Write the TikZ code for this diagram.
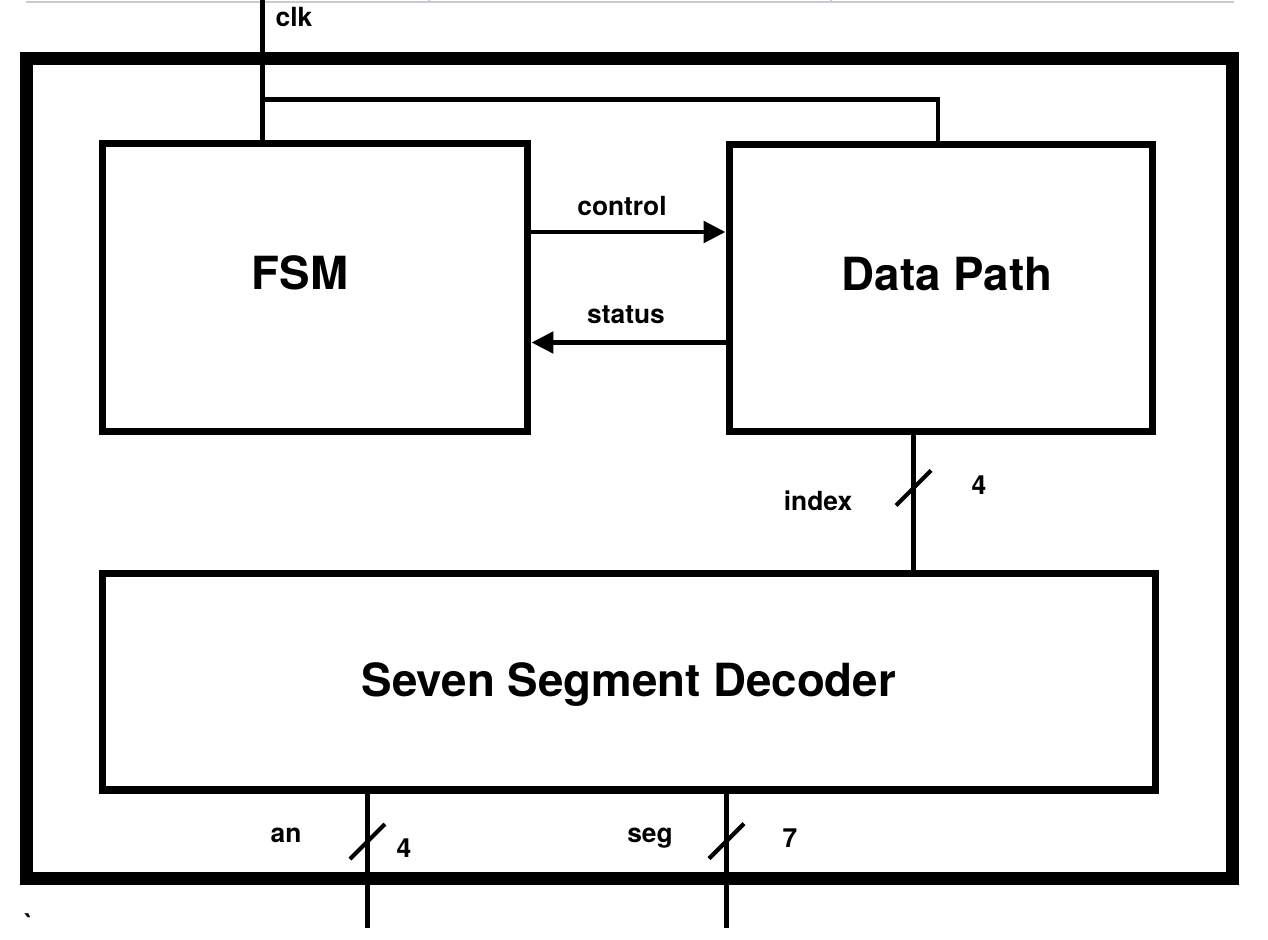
\documentclass[tikz,border=0pt]{standalone}
\usepackage{fontspec}
\setmainfont{TeX Gyre Heros}
\usepackage{tikz}
\usetikzlibrary{calc,arrows.meta}
\definecolor{rulegray}{RGB}{200,204,208}

\begin{document}
\begin{tikzpicture}[x=0.02cm,y=-0.02cm,
  block/.style={draw,line width=4pt,inner sep=0pt},
  title/.style={font=\fontsize{26}{31}\selectfont\bfseries,anchor=base,inner sep=0pt},
  lbl/.style={font=\fontsize{15}{18}\selectfont\bfseries,anchor=base,inner sep=0pt},
  wire/.style={line width=2.7pt},
  sig/.style={line width=2.8pt,-{Triangle[length=12.5pt,width=12pt]}},
  bus/.style={line width=2.4pt}]
\useasboundingbox (0,0) rectangle (1268,940);

% thin rule along the top edge
\draw[rulegray,line width=0.6pt] (26,2) -- (1234,2);
\foreach \x in {429,831}
\draw[rulegray,line width=0.6pt] (\x,0) -- (\x,2);

% outer frame
\node[draw,line width=7.4pt,inner sep=0pt,minimum width=24.13cm,minimum height=16.39cm] (chip) at (629.25,468.35) {};

% the three blocks
\node[block,minimum width=8.52cm,minimum height=5.78cm] (fsm) at (315,287.5) {};
\node[block,minimum width=8.48cm,minimum height=5.76cm] (dp) at (941,288) {};
\node[block,minimum width=21.08cm,minimum height=4.34cm] (dec) at (629,681.5) {};

% block titles
\node[title] (fsmname) at (300,289) {FSM};
\node[title] (dpname) at (947,290) {Data Path};
\node[title] (decname) at (629,696) {Seven Segment Decoder};

% clock
\coordinate (clkin) at (262.5,0);
\coordinate (clkj) at (262.5,99.7);
\coordinate (clkdp) at (938,99.7);
\draw[wire] (clkin) -- (clkin |- fsm.north);
\draw[wire] (clkj) -- (clkdp) -- (clkdp |- dp.north);
\node[lbl] (clk) at (294,26) {clk};

% control and status
\coordinate (ctl) at (622,232);
\coordinate (sts) at (626,342.5);
\draw[sig] (fsm.east |- ctl) -- (dp.west |- ctl);
\draw[sig] (dp.west |- sts) -- (fsm.east |- sts);
\node[lbl] (ctlname) at (622,215) {control};
\node[lbl] (stsname) at (626,323) {status};

% buses
\coordinate (idx) at (913.5,488);
\coordinate (an) at (367.5,841.5);
\coordinate (seg) at (726.5,841);
\coordinate (anout) at (367.5,928);
\coordinate (segout) at (726.5,928);
\draw[wire] (idx |- dp.south) -- (idx |- dec.north);
\draw[wire] (an |- dec.south) -- (anout);
\draw[wire] (seg |- dec.south) -- (segout);

% slash across each bus
\foreach \b in {idx,an,seg}
\draw[bus] ($(\b)+(-17.5,17.5)$) -- ($(\b)+(17.5,-17.5)$);

% bus labels
\node[lbl] (idxname) at (818,510) {index};
\node[lbl] (idxw) at (979,494) {4};
\node[lbl] (anname) at (286,842) {an};
\node[lbl] (anw) at (404,857) {4};
\node[lbl] (segname) at (650,842) {seg};
\node[lbl] (segw) at (790,847) {7};

% stray mark
\node[lbl] (grave) at (29,933) {\textasciigrave};

\end{tikzpicture}
\end{document}
